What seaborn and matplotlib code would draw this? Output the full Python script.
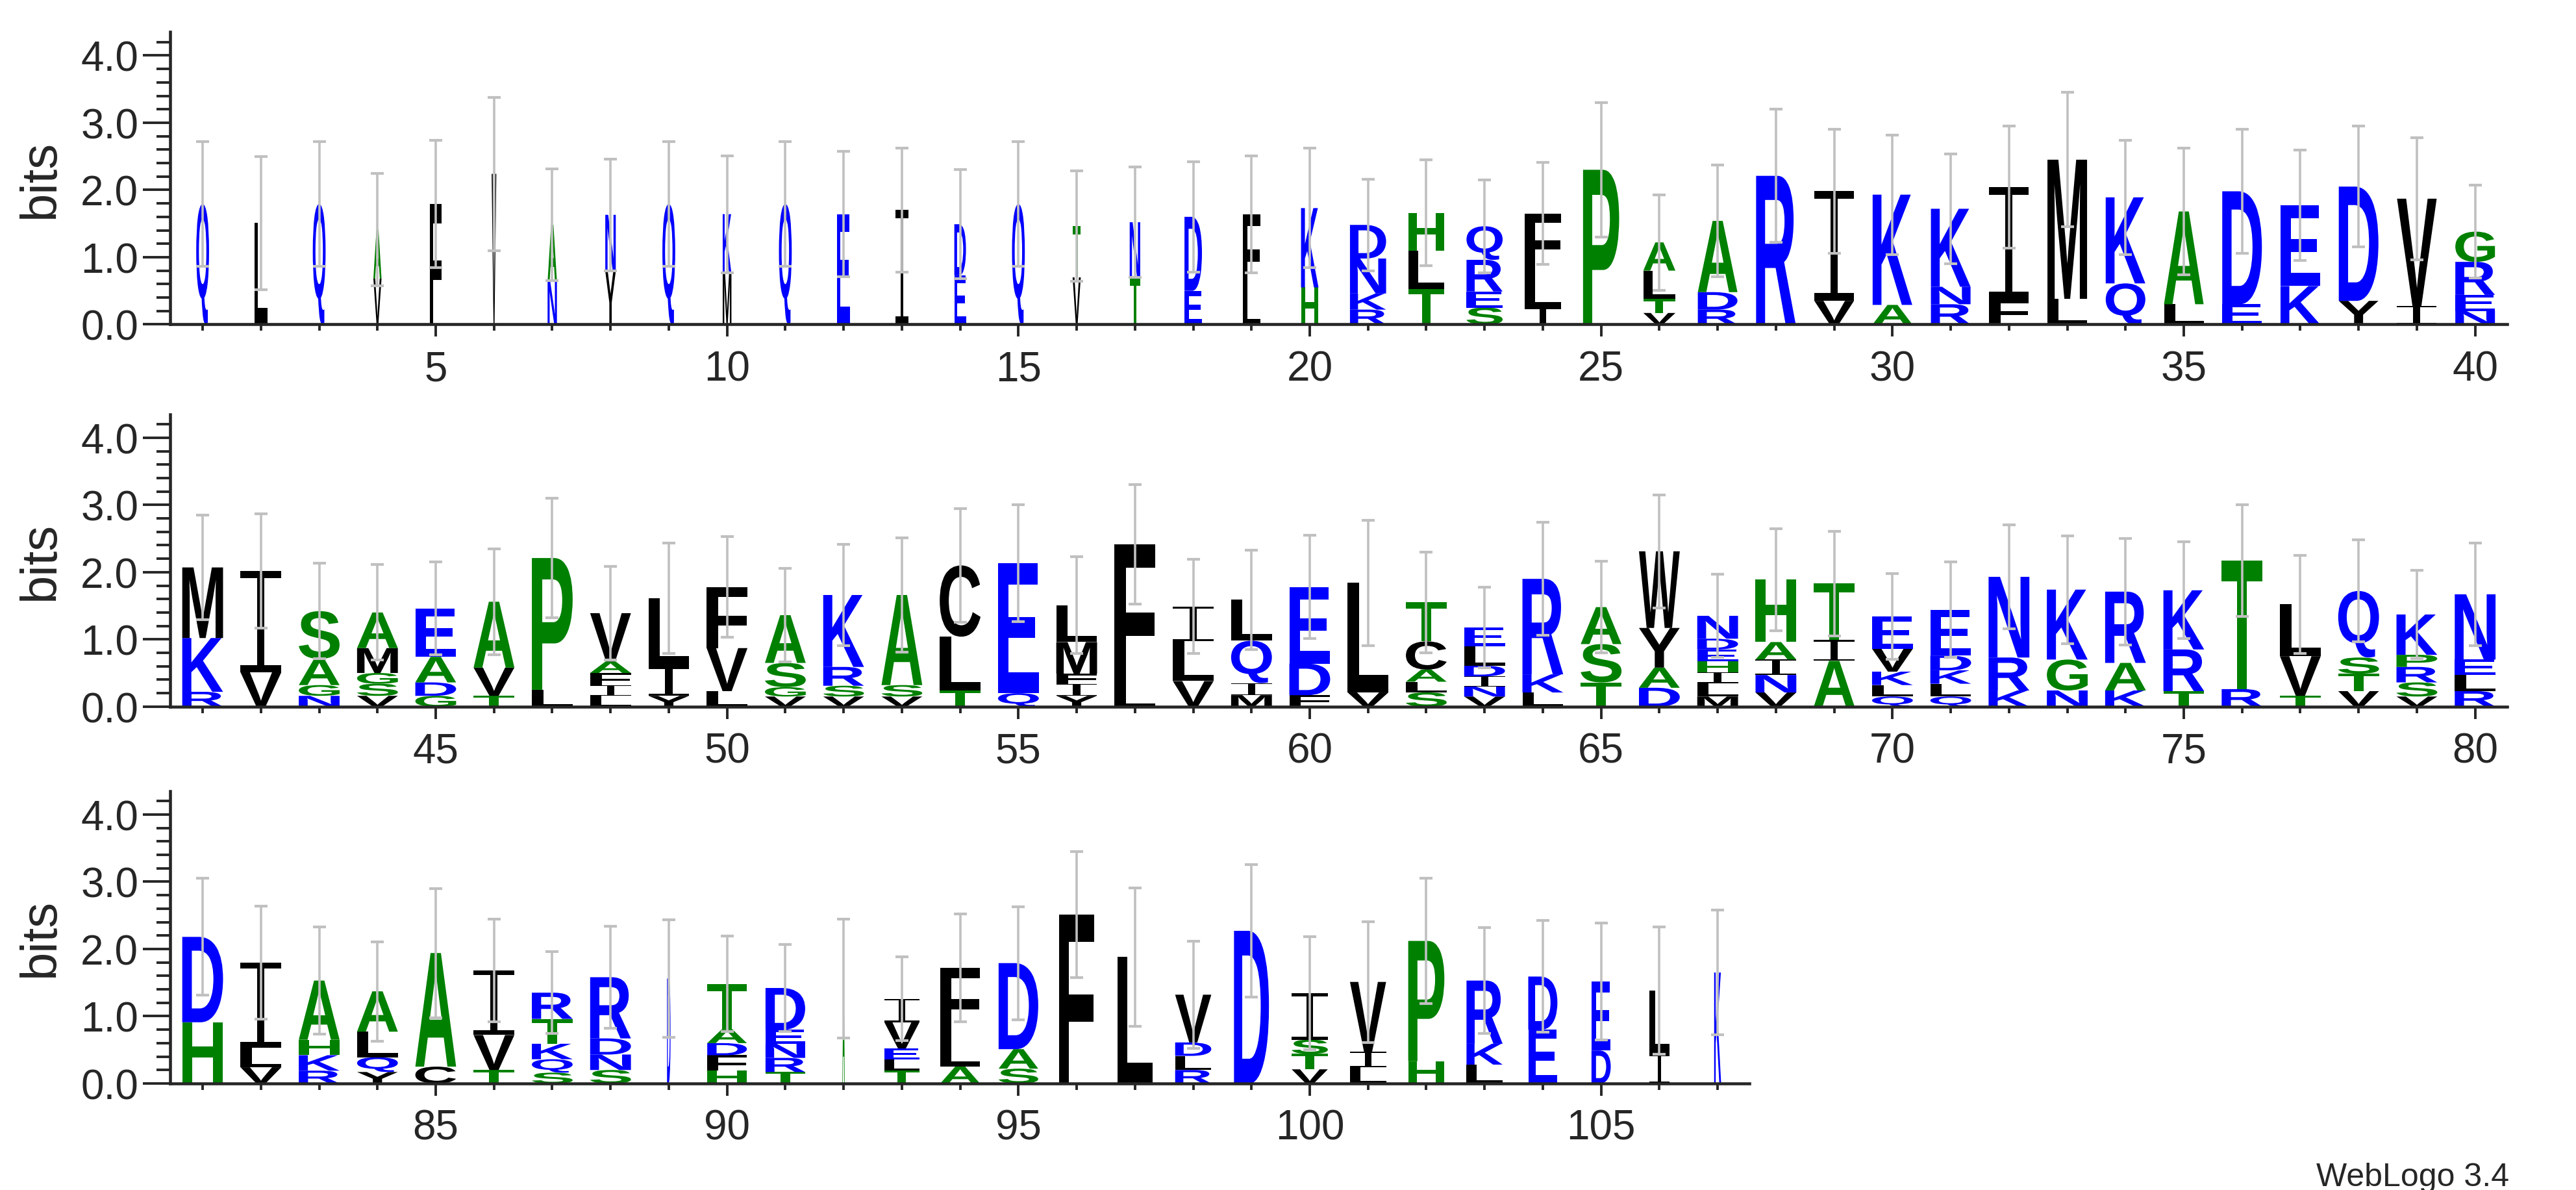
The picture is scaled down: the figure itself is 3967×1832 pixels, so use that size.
import numpy as np
import matplotlib
matplotlib.use("Agg")
import matplotlib.pyplot as plt
import seaborn as sns
from matplotlib.textpath import TextPath
from matplotlib.font_manager import FontProperties
from matplotlib.patches import PathPatch
from matplotlib.path import Path
from matplotlib.transforms import Affine2D

sns.set_style("ticks")
plt.rcParams['font.family'] = ['Liberation Sans', 'DejaVu Sans']

# Stacks bottom -> top, "letter:height(bits)"
STACKS_1 = [
 "Q:1.79", "L:1.51", "Q:1.79", "V:0.68 A:0.73", "F:1.79", "V:2.24", "N:0.64 A:0.84",
 "Y:0.79 N:0.84", "Q:1.79", "M:0.76 K:0.88", "Q:1.79", "E:1.64", "I:1.70", "E:0.73 D:0.76",
 "Q:1.79", "V:0.70 T:0.76", "T:0.69 N:0.83", "E:0.50 D:1.10", "L:0.52 F:1.12", "H:0.55 K:1.18",
 "R:0.22 K:0.24 N:0.52 D:0.50", "T:0.53 L:0.57 H:0.56", "S:0.25 E:0.24 R:0.47 Q:0.50",
 "I:0.24 L:0.57 F:0.84", "P:2.30", "V:0.17 T:0.21 L:0.42 A:0.42", "R:0.22 D:0.26 A:1.06",
 "R:2.21", "V:0.35 I:1.63", "A:0.29 K:1.64", "R:0.30 N:0.26 K:1.16", "F:0.37 I:1.67",
 "L:0.38 M:2.07", "Q:0.61 K:1.28", "L:0.30 A:1.38", "E:0.30 D:1.68", "K:0.57 E:1.20",
 "Y:0.35 D:1.70", "I:0.27 V:1.60", "N:0.20 E:0.24 R:0.49 G:0.45",
]
ERRTOP_1 = [2.72, 2.50, 2.72, 2.25, 2.74, 3.38, 2.31, 2.46, 2.72, 2.51, 2.72, 2.57, 2.62, 2.30,
            2.72, 2.28, 2.34, 2.42, 2.51, 2.62, 2.16, 2.45, 2.15, 2.41, 3.30, 1.93, 2.37, 3.20,
            2.90, 2.82, 2.54, 2.95, 3.45, 2.74, 2.62, 2.90, 2.59, 2.95, 2.78, 2.07]
WIDTH_1 = [0.22, 0.22, 0.22, 0.14, 0.2, 0.08, 0.16, 0.18, 0.22, 0.15, 0.22, 0.22, 0.22, 0.2,
           0.22, 0.14, 0.18, 0.3, 0.3, 0.3] + [0.62, 0.62, 0.62, 0.62, 0.62, 0.55] + [0.68] * 14

STACKS_2 = [
 "R:0.22 K:0.80 M:1.05", "V:0.51 I:1.51", "N:0.16 G:0.16 A:0.39 S:0.71",
 "V:0.16 S:0.18 G:0.16 M:0.37 A:0.53", "G:0.16 D:0.20 A:0.38 E:0.72", "T:0.16 V:0.42 A:0.98",
 "L:0.25 P:1.96", "L:0.16 I:0.16 F:0.18 A:0.17 V:0.72", "Y:0.16 I:0.43 L:1.02",
 "L:0.23 V:0.64 F:0.91", "V:0.15 G:0.14 S:0.36 A:0.71", "V:0.15 S:0.16 R:0.28 K:1.07",
 "V:0.15 S:0.17 A:1.34", "T:0.24 L:0.80 C:1.06", "Q:0.20 E:1.93",
 "Y:0.16 I:0.18 F:0.15 M:0.47 L:0.55", "L:0.27 F:2.14", "V:0.38 L:0.59 I:0.52",
 "M:0.17 I:0.18 Q:0.63 L:0.61", "F:0.17 D:0.47 E:1.14",
 "V:0.21 L:1.63", "S:0.21 L:0.16 A:0.18 C:0.42 T:0.58",
 "V:0.15 N:0.15 I:0.15 D:0.16 L:0.29 E:0.28", "L:0.21 K:0.27 R:1.42", "T:0.36 S:0.57 A:0.55",
 "D:0.28 A:0.30 Y:0.59 W:1.14", "M:0.15 L:0.20 I:0.16 H:0.16 E:0.18 D:0.16 N:0.34",
 "V:0.21 N:0.26 I:0.23 A:0.26 H:0.93", "A:0.68 I:0.31 T:0.84",
 "Q:0.15 L:0.17 K:0.20 V:0.34 E:0.48", "Q:0.15 L:0.19 K:0.20 D:0.22 E:0.68",
 "K:0.24 R:0.49 N:1.20", "N:0.24 G:0.46 K:1.04", "K:0.24 A:0.41 R:1.06", "T:0.23 R:0.62 K:0.88",
 "R:0.26 T:1.91", "T:0.16 V:0.59 L:0.77", "V:0.23 T:0.26 S:0.24 Q:0.99",
 "V:0.15 S:0.21 R:0.23 P:0.18 K:0.60", "R:0.23 L:0.24 E:0.23 N:0.97",
]
ERRTOP_2 = [2.85, 2.87, 2.13, 2.11, 2.15, 2.35, 3.10, 2.09, 2.43, 2.53, 2.06, 2.41, 2.51, 2.95,
            3.00, 2.23, 3.30, 2.19, 2.33, 2.55, 2.77, 2.30, 1.78, 2.74, 2.16, 3.15, 1.97, 2.65,
            2.61, 1.98, 2.15, 2.70, 2.54, 2.50, 2.45, 3.00, 2.25, 2.48, 2.03, 2.43]
WIDTH_2 = [0.7] * 40

STACKS_3 = [
 "H:0.91 D:1.27", "V:0.24 L:0.29 I:1.27", "R:0.19 K:0.23 H:0.23 A:0.88",
 "Y:0.17 Q:0.22 L:0.38 A:0.60", "C:0.25 A:1.69", "T:0.20 V:0.52 I:0.96",
 "S:0.16 Q:0.20 K:0.23 T:0.37 R:0.39", "S:0.20 N:0.23 D:0.24 R:0.91", "D:1.56",
 "H:0.19 F:0.23 D:0.18 A:0.21 T:0.67", "T:0.17 R:0.21 N:0.21 E:0.21 D:0.62", "A:1.56",
 "T:0.19 L:0.17 E:0.16 V:0.39 I:0.35", "A:0.25 L:0.49 F:0.98", "S:0.22 A:0.29 D:1.28",
 "F:2.51", "L:1.88", "R:0.20 L:0.21 D:0.20 V:0.71", "D:2.27", "V:0.21 T:0.23 S:0.21 I:0.69",
 "L:0.24 I:0.23 V:1.04", "H:0.33 P:1.79", "L:0.28 K:0.31 R:0.94", "E:0.80 D:0.79",
 "D:0.49 E:1.03", "I:0.44 L:0.94", "K:1.65",
]
ERRTOP_3 = [3.05, 2.64, 2.33, 2.11, 2.90, 2.44, 1.96, 2.34, 2.43, 2.19, 2.07, 2.44, 1.88, 2.52,
            2.63, 3.45, 2.91, 2.12, 3.26, 2.18, 2.41, 3.05, 2.32, 2.42, 2.39, 2.33, 2.58]
WIDTH_3 = [0.7] * 8 + [0.06, 0.68, 0.68, 0.04, 0.6, 0.68, 0.68, 0.6, 0.6, 0.62, 0.6, 0.62,
                       0.62, 0.62, 0.62, 0.5, 0.33, 0.35, 0.12]

ROW_STARTS = [1, 41, 81]
COLORS = {}
for c in "ILMFVWYC":
    COLORS[c] = "black"
for c in "AGSTPH":
    COLORS[c] = "#008000"
for c in "NQDEKR":
    COLORS[c] = "#0000ff"

FP = FontProperties(family="Liberation Sans", weight="bold")
_cache = {}


def i_beam_path():
    # serifed capital I glyph outline in a unit box
    b, s = 0.07, 0.09
    verts = [(0, 0), (1, 0), (1, b), (0.5 + s, b), (0.5 + s, 1 - b), (1, 1 - b), (1, 1),
             (0, 1), (0, 1 - b), (0.5 - s, 1 - b), (0.5 - s, b), (0, b), (0, 0)]
    codes = [Path.MOVETO] + [Path.LINETO] * 11 + [Path.CLOSEPOLY]
    return Path(verts, codes)


def draw_letter(ax, ch, x, y, w, h):
    if ch not in _cache:
        _cache[ch] = i_beam_path() if ch == "I" else TextPath((0, 0), ch, size=1, prop=FP)
    p = _cache[ch]
    bb = p.get_extents()
    tr = (Affine2D().translate(-bb.x0, -bb.y0)
          .scale(w / bb.width, h / bb.height)
          .translate(x - w / 2, y))
    ax.add_patch(PathPatch(tr.transform_path(p), facecolor=COLORS[ch], edgecolor="none", lw=0))


fig = plt.figure(figsize=(39.67, 18.33), dpi=100)
rows = [(STACKS_1, ERRTOP_1, WIDTH_1), (STACKS_2, ERRTOP_2, WIDTH_2), (STACKS_3, ERRTOP_3, WIDTH_3)]
bottoms = [0.727, 0.406, 0.0895]
pos_w = 0.02262  # figure fraction per position
for r, (stacks, errtop, widths) in enumerate(rows):
    start = ROW_STARTS[r]
    n = len(stacks)
    ax = fig.add_axes([0.066, bottoms[r], (n + 0.11) * pos_w, 0.2456])
    tops = []
    for i, s in enumerate(stacks):
        x = start + i
        y = 0.0
        for tok in s.split():
            ch, hv = tok.split(":")
            hv = float(hv)
            draw_letter(ax, ch, x, y, widths[i], hv)
            y += hv
        tops.append(y)
    xs = np.arange(start, start + n)
    tops = np.array(tops)
    half = np.array(errtop) - tops
    ax.errorbar(xs, tops, yerr=half, fmt="none", ecolor="#c0c0c0", elinewidth=2.6,
                capsize=7.5, capthick=3, zorder=3)
    ax.set_xlim(start - 0.56, start + n - 0.45)
    ax.set_ylim(0, 4.35)
    sns.despine(ax=ax)
    for sp in ["left", "bottom"]:
        ax.spines[sp].set_linewidth(3.3)
    ax.set_yticks([0, 1, 2, 3, 4])
    ax.set_yticklabels(["0.0", "1.0", "2.0", "3.0", "4.0"])
    ax.set_yticks(np.arange(0, 4.21, 0.2), minor=True)
    major = [v for v in xs if v % 5 == 0]
    ax.set_xticks(major)
    ax.set_xticklabels([str(v) for v in major])
    ax.set_xticks(xs, minor=True)
    ax.tick_params(axis="x", which="major", labelsize=46, width=2.8, length=14, pad=14)
    ax.tick_params(axis="x", which="minor", width=2.8, length=7)
    ax.tick_params(axis="y", which="major", labelsize=46, width=2.8, length=30, pad=5)
    ax.tick_params(axis="y", which="minor", width=2.8, length=15)
    ax.set_ylabel("bits", fontsize=56, labelpad=18)

fig.text(0.974, 0.004, "WebLogo 3.4", ha="right", va="baseline", fontsize=36)
fig.savefig("out.png", dpi=100)
